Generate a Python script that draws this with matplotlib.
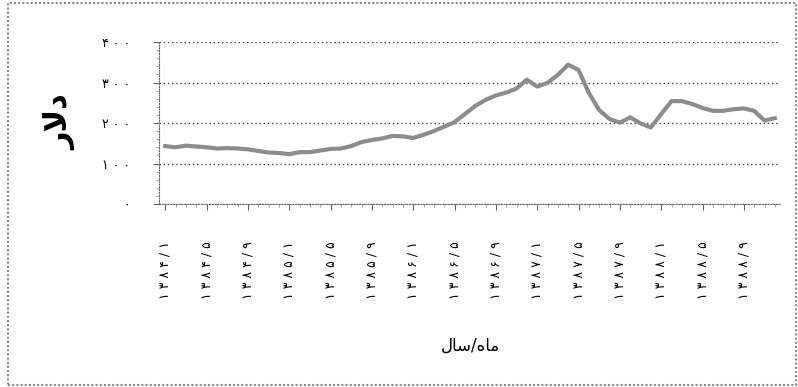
import numpy as np
import matplotlib.pyplot as plt
from matplotlib.patches import Rectangle

plt.rcParams['font.family'] = ['DejaVu Sans']

# monthly price, 1384/1 .. 1388/12
values = [143, 140, 144, 142, 140, 137, 138, 137, 135, 131,
          127, 126, 123, 128, 128, 132, 136, 137, 143, 153,
          158, 162, 168, 167, 163, 171, 180, 191, 202, 222,
          242, 257, 268, 275, 285, 307, 290, 299, 319, 344,
          331, 274, 232, 210, 201, 214, 199, 189, 222, 254,
          254, 247, 237, 230, 230, 234, 236, 230, 206, 212]
years = [1384, 1385, 1386, 1387, 1388]
label_months = [1, 5, 9]
y_ticks = [0, 100, 200, 300, 400]

# pre-shaped Persian labels (visual order, left to right)
y_title = "\uFEAD\uFEFB\uFEA9"                                 # دلار
x_title = "\uFEDD\uFE8E\uFEB3/\uFEE9\uFE8E\uFEE3"              # ماه/سال

to_fa = str.maketrans("0123456789", "۰۱۲۳۴۵۶۷۸۹")


def fa(text):
    return " ".join(str(text).translate(to_fa))


month_names = [f"{y}/{m}" for y in years for m in range(1, 13)]
x = np.arange(len(values))
tick_pos = [i for i, n in enumerate(month_names) if int(n.split("/")[1]) in label_months]

W, H = 798, 387
fig = plt.figure(figsize=(W / 100, H / 100), dpi=100)
ax = fig.add_axes([159 / W, 1 - 204 / H, (780 - 159) / W, (204 - 42) / H])

ax.plot(x, values, color="#8c8c8c", lw=3, solid_joinstyle="round")

ax.set_xlim(-0.6, 59.5)
ax.set_ylim(0, 400)
ax.set_yticks(y_ticks)
ax.set_yticklabels([fa(v) for v in y_ticks], fontsize=9)
ax.set_yticks(np.arange(0, 401, 20), minor=True)
ax.set_xticks(tick_pos)
ax.set_xticklabels([fa(month_names[i]) for i in tick_pos], rotation=90,
                   fontsize=9, va="top")
ax.set_xticks(x, minor=True)

ax.yaxis.grid(True, ls=(0, (1, 2)), color="#444444", lw=1)
ax.set_axisbelow(True)
for side in ["top", "right"]:
    ax.spines[side].set_visible(False)
for side in ["left", "bottom"]:
    ax.spines[side].set_linestyle((0, (1, 1.5)))
    ax.spines[side].set_color("#666666")

ax.tick_params(axis="y", which="major", length=4, pad=17, color="#666666")
ax.tick_params(axis="y", which="minor", length=2, color="#999999")
ax.tick_params(axis="x", which="major", length=4, pad=23, color="#666666")
ax.tick_params(axis="x", which="minor", length=2, color="#999999")

fig.text(60 / W, 1 - 122 / H, y_title, rotation=90, fontsize=22,
         fontweight="bold", ha="center", va="center")
fig.text(470 / W, 1 - 346 / H, x_title, fontsize=12, ha="center", va="center")

fig.patches.append(Rectangle((8 / W, 2 / H), (W - 10) / W, (H - 5) / H,
                             transform=fig.transFigure, fill=False,
                             ec="#888888", lw=1.5, ls=(0, (1, 1))))

fig.savefig("out.png", dpi=100)
